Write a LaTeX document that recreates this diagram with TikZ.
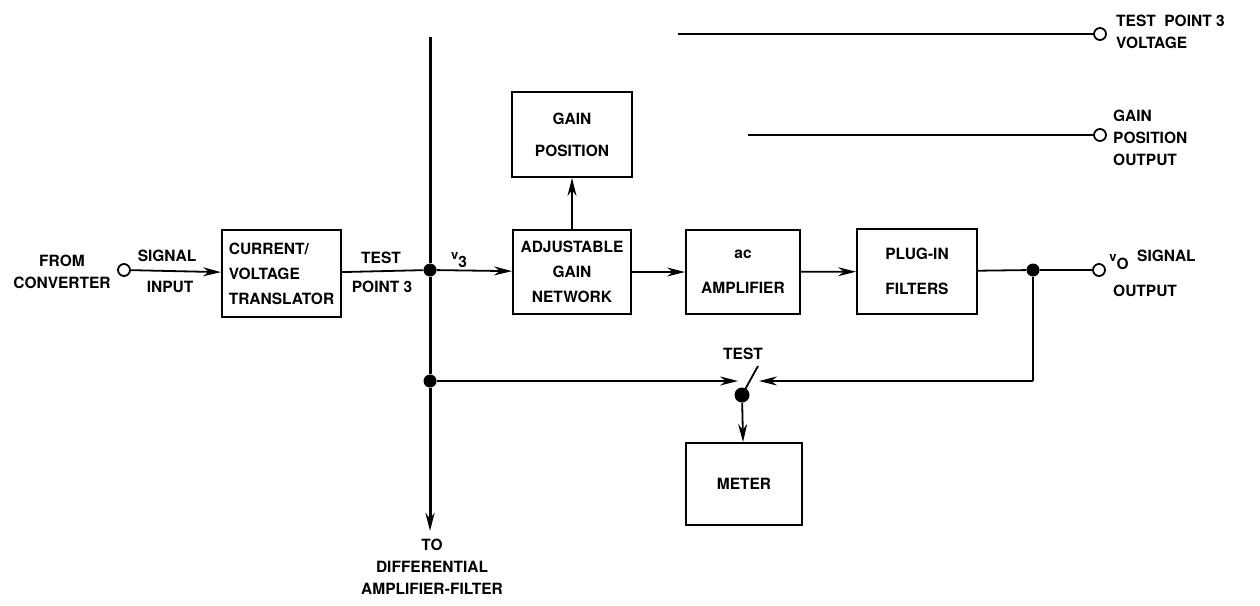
\documentclass[tikz,border=0pt]{standalone}
\usepackage{fontspec}
\setmainfont{TeX Gyre Heros}
\usetikzlibrary{positioning,arrows.meta}

\begin{document}
\begin{tikzpicture}[x=1pt, y=-1pt,
    font=\fontsize{15.5}{22}\selectfont\bfseries,
    blk/.style={draw, line width=2pt, minimum width=118pt,
      minimum height=85pt, align=center, inner sep=2pt},
    lbl/.style={align=center, inner sep=1pt},
    flow/.style={-{Stealth[length=18pt, width=9pt]}, line width=1.8pt},
    wire/.style={line width=1.8pt},
    bus/.style={line width=3pt},
    dot/.style={circle, fill, inner sep=0pt, minimum size=13pt},
    port/.style={circle, draw, line width=1.8pt, fill=white,
      inner sep=0pt, minimum size=12pt}]

  \useasboundingbox (0,0) rectangle (1260,605);

  % main chain
  \node[blk, align=left, minimum width=119pt, minimum height=87pt,
    font=\fontsize{15.5}{25}\selectfont\bfseries] (cvt) at (281.5,273.5)
    {CURRENT/\\VOLTAGE\\TRANSLATOR};
  \node[blk, minimum height=84pt, font=\fontsize{15.5}{25}\selectfont\bfseries]
    (adj) at (572,272) {ADJUSTABLE\\GAIN\\NETWORK};
  \node[blk, minimum width=120pt] (gpos) at (572,134.5)
    {GAIN\\[10pt]POSITION};
  \node[blk, minimum width=114pt, minimum height=84pt] (acamp)
    at (743,272) {ac\\[13pt]AMPLIFIER};
  \node[blk, minimum width=120pt] (plug) at (917,271.5)
    {PLUG-IN\\[13pt]FILTERS};
  \node[blk, minimum width=116pt, minimum height=82pt] (meter)
    at (744,484) {METER};

  % junctions and terminals
  \node[port] (pin) at (124,270) {};
  \node[port] (pout) at (1099,270) {};
  \node[port] (ptp) at (1100,34) {};
  \node[port] (pgp) at (1100,135) {};
  \node[dot] (j1) at (430,270) {};
  \node[dot] (j2) at (430,381) {};
  \node[dot] (j3) at (1033,270) {};
  \node[dot, minimum size=15pt] (sw) at (742,395) {};
  \coordinate (bustop) at (430,37);
  \coordinate (busend) at (430,531);
  \coordinate (corner) at (1033,381);
  \coordinate (swl) at (738,381);
  \coordinate (swr) at (759,381);
  \coordinate (swt) at (758,366);
  \coordinate (tpfree) at (678,34);
  \coordinate (gpfree) at (748,135);

  % labels
  \node[lbl] (from) at (62,272) {FROM\\CONVERTER};
  \node[lbl] (sig) at (167,256) {SIGNAL};
  \node[lbl] (inp) at (170,287) {INPUT};
  \node[lbl] (tst) at (381,258) {TEST};
  \node[lbl] (pt3) at (382,287) {POINT 3};
  \node[lbl] (v3) at (459,260) {{\fontsize{13}{13}\selectfont v}\raisebox{-8pt}{3}};
  \node[lbl] (todiff) at (432,567) {TO\\DIFFERENTIAL\\AMPLIFIER-FILTER};
  \node[lbl] (swlbl) at (743,354) {TEST};
  \node[lbl] (vo) at (1119,262) {{\fontsize{13}{13}\selectfont v}\raisebox{-8pt}{O}};
  \node[lbl, anchor=west] (sigout1) at (1136,256) {SIGNAL};
  \node[lbl, anchor=west] (sigout2) at (1112,291) {OUTPUT};
  \node[lbl, align=left, anchor=west] (tpv) at (1115,32)
    {TEST\ \ POINT 3\\VOLTAGE};
  \node[lbl, align=left, anchor=west] (gpo) at (1112,138)
    {GAIN\\POSITION\\OUTPUT};

  % connections
  \draw[flow] (pin) -- (cvt);
  \draw[wire] (cvt) -- (j1);
  \draw[bus] (bustop) -- (j1) -- (j2);
  \draw[flow, line width=3pt] (j2) -- (busend);
  \draw[flow] (j1) -- (adj);
  \draw[flow] (adj) -- (gpos);
  \draw[flow] (adj) -- (acamp);
  \draw[flow] (acamp) -- (plug);
  \draw[wire] (plug) -- (j3) -- (pout);
  \draw[wire] (j3) -- (corner);
  \draw[flow] (corner) -- (swr);
  \draw[flow] (j2) -- (swl);
  \draw[wire] (sw.center) -- (swt);
  \draw[flow] (sw) -- (meter);
  \draw[wire] (tpfree) -- (ptp);
  \draw[wire] (gpfree) -- (pgp);
\end{tikzpicture}
\end{document}
